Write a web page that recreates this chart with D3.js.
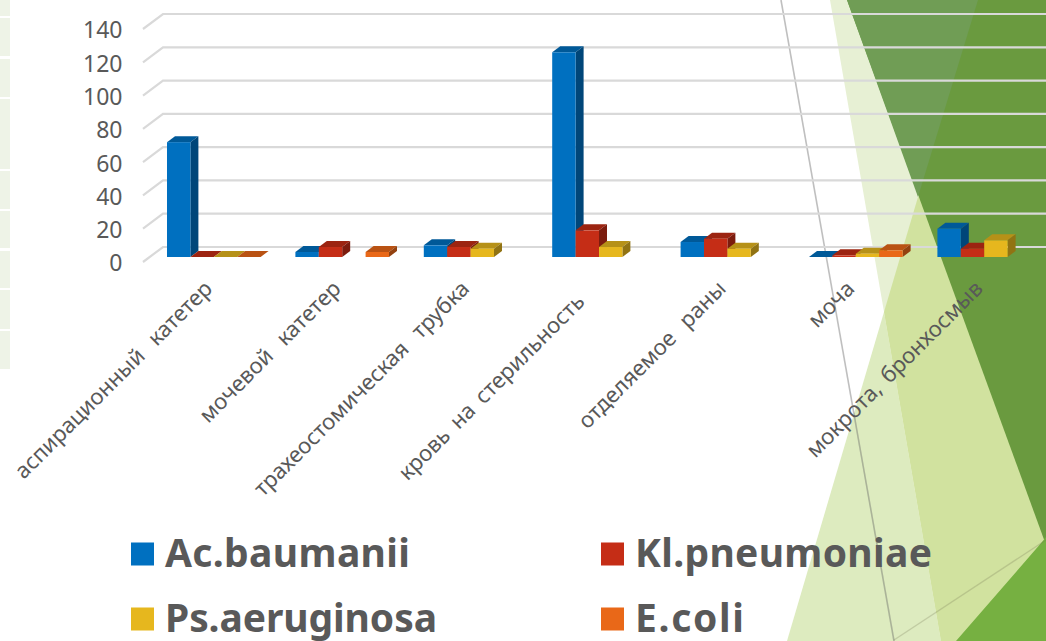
<!DOCTYPE html>
<html>
<head>
<meta charset="utf-8">
<script src="https://cdn.jsdelivr.net/npm/d3@7"></script>
<style>
  html, body { margin: 0; padding: 0; background: #fff; }
  svg { display: block; }
  text { font-family: "Noto Sans", sans-serif; fill: #595959; }
</style>
</head>
<body>
<svg id="chart" width="1046" height="641"></svg>
<script>
// chart data (null = no bar drawn)
const categories = ["аспирационный катетер", "мочевой катетер", "трахеостомическая трубка",
                    "кровь на стерильность", "отделяемое раны", "моча", "мокрота, бронхосмыв"];
const seriesNames = ["Ac.baumanii", "Kl.pneumoniae", "Ps.aeruginosa", "E.coli"];
const seriesColors = ["#0070c0", "#c52d16", "#e6b71e", "#e96818"];
const acBaumanii = [69, 3, 7, 123, 9, 0, 17];
const klPneumoniae = [0, 6, 6, 16, 11, 1, 5];
const psAeruginosa = [0, null, 5, 6, 5, 2, 10];
const eColi = [0, 3, null, null, null, 4, null];
const seriesValues = [acBaumanii, klPneumoniae, psAeruginosa, eColi];
const yTicks = [0, 20, 40, 60, 80, 100, 120, 140];

// label quirks of the original: wider gaps on some, "кровь на..." sits off its group
const labelWordSpacing = [9, 9, 9, 4, 9, 0, 3];
const labelNudge = [[0, 0], [0, 0], [0, 0], [-13, 13], [0, 0], [0, 0], [0, 0]];
const legendTextWidths = [245, 297, 272, 109];

// slide decoration behind the chart
const leftStripes = [[0, 16], [18, 56], [59, 97], [99, 169], [171, 209], [211, 248], [251, 288], [290, 329], [331, 369]];
const slideShapes = [
  { fill: "#e7f0d4", pts: [[830, 0], [941, 641], [1046, 641], [1046, 0]] },
  { fill: "#ddebbf", pts: [[884, 312], [787, 641], [941, 641]] },
  { fill: "#d1e29f", pts: [[918, 197], [884, 312], [941, 641], [1046, 641], [1046, 500], [935, 197]] },
  { fill: "#6a9a3f", pts: [[847, 0], [1046, 545], [1046, 0]] },
  { fill: "#709d55", pts: [[847, 0], [978, 0], [918, 197]] },
  { fill: "#76b041", pts: [[1042, 542], [956, 641], [1046, 641], [1046, 537]] }
];

const svg = d3.select("#chart");
const depthX = 20, depthY = 15;   // wall offset
const barDepthX = 8, barDepthY = 6;
const barLift = 5;                // bars stand a bit behind the front floor edge

const x = d3.scaleBand().domain(categories).range([132.2, 1065.8]).paddingInner(0.271).paddingOuter(0.271);
const xInner = d3.scaleBand().domain(seriesNames).range([0, 93.6]);
const y = d3.scaleLinear().domain([0, 140]).range([262, 29]);

// background
const bg = svg.append("g").attr("class", "slide");
bg.selectAll("rect").data(leftStripes).enter().append("rect")
  .attr("x", 0).attr("width", 10)
  .attr("y", function(d) { return d[0]; })
  .attr("height", function(d) { return d[1] - d[0]; })
  .attr("fill", "#eef3e7");
bg.selectAll("polygon").data(slideShapes).enter().append("polygon")
  .attr("points", function(d) { return d.pts.join(" "); })
  .attr("fill", function(d) { return d.fill; });
bg.append("line").attr("x1", 781).attr("y1", 0).attr("x2", 894).attr("y2", 641)
  .attr("stroke", "#5f5f5f").attr("stroke-opacity", 0.4).attr("stroke-width", 1.6);
bg.append("line").attr("x1", 894).attr("y1", 640).attr("x2", 1046).attr("y2", 540)
  .attr("stroke", "#6f6f4f").attr("stroke-opacity", 0.25).attr("stroke-width", 1.4);

// gridlines on back wall and side wall
const grid = svg.append("g").attr("class", "grid").attr("fill", "none")
  .attr("stroke", "#d9d9d9").attr("stroke-width", 2.2);
grid.selectAll("path").data(yTicks).enter().append("path")
  .attr("d", function(d) {
    return "M143," + y(d) + "L" + (143 + depthX) + "," + (y(d) - depthY) + "H1046";
  });

// value axis
const yAxis = d3.axisLeft(y).tickValues(yTicks).tickSize(0).tickPadding(0);
const axisG = svg.append("g").attr("transform", "translate(122.5,1.5)").call(yAxis);
axisG.select(".domain").remove();
axisG.selectAll("text").style("font-family", '"Noto Sans", sans-serif')
  .style("font-size", "23px").attr("fill", "#595959");

// bars
function barFaces(g, color, v) {
  const w = xInner.bandwidth();
  const y0 = y(0) - barLift, yT = y(v) - barLift;
  const c = d3.color(color);
  g.append("polygon")
    .attr("points", [[0, yT], [barDepthX, yT - barDepthY], [w + barDepthX, yT - barDepthY], [w, yT]].join(" "))
    .attr("fill", c.darker(0.65));
  g.append("polygon")
    .attr("points", [[w, yT], [w + barDepthX, yT - barDepthY], [w + barDepthX, y0 - barDepthY], [w, y0]].join(" "))
    .attr("fill", c.darker(1.3));
  g.append("rect").attr("x", 0).attr("y", yT).attr("width", w).attr("height", y0 - yT)
    .attr("fill", color);
}

categories.forEach(function(cat, i) {
  const group = svg.append("g").attr("transform", "translate(" + x(cat) + ",0)");
  seriesNames.forEach(function(name, s) {
    const v = seriesValues[s][i];
    if (v === null) return;
    const g = group.append("g").attr("transform", "translate(" + xInner(name) + ",0)");
    barFaces(g, seriesColors[s], v);
  });
});

// category labels
svg.append("g").selectAll("text").data(categories).enter().append("text")
  .attr("text-anchor", "end")
  .attr("transform", function(d, i) {
    const tx = x(d) + x.bandwidth() / 2 + labelNudge[i][0];
    return "translate(" + tx + "," + (290 + labelNudge[i][1]) + ") rotate(-45)";
  })
  .style("font-size", "22px")
  .style("word-spacing", function(d, i) { return labelWordSpacing[i] + "px"; })
  .text(function(d) { return d; });

// legend
const legendX = d3.scaleOrdinal().domain([0, 1]).range([131, 601]);
const legendY = d3.scaleOrdinal().domain([0, 1]).range([567, 632]);
const legend = svg.append("g").selectAll("g").data(seriesNames).enter().append("g")
  .attr("transform", function(d, i) {
    return "translate(" + legendX(i % 2) + "," + legendY(Math.floor(i / 2)) + ")";
  });
legend.append("rect").attr("x", 0).attr("y", -24.5).attr("width", 23).attr("height", 23)
  .attr("fill", function(d, i) { return seriesColors[i]; });
legend.append("text").attr("x", 34).attr("y", 0)
  .attr("textLength", function(d, i) { return legendTextWidths[i]; })
  .attr("lengthAdjust", "spacing")
  .style("font-size", "39px").style("font-weight", 700)
  .text(function(d) { return d; });
</script>
</body>
</html>
